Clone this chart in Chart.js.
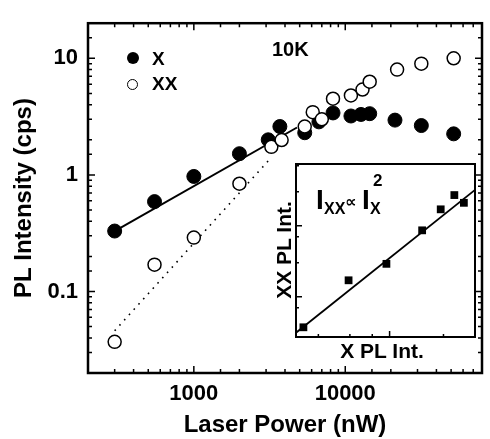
<!DOCTYPE html>
<html>
<head>
<meta charset="utf-8">
<script src="https://cdn.jsdelivr.net/npm/chart.js@4.4.1/dist/chart.umd.min.js"></script>
<style>
    body { margin: 0; background: #fff; }
    #wrap { position: relative; width: 490px; height: 439px; }
    #wrap canvas { position: absolute; left: 0; top: 0; }
    .txt { position: absolute; font-family: 'Liberation Sans', Arial, sans-serif; font-weight: bold; line-height: 1; white-space: nowrap; color: #000; }
    .dot { position: absolute; box-sizing: border-box; border-radius: 50%; }
</style>
</head>
<body>
<div id="wrap">
    <canvas id="mainChart" width="490" height="439"></canvas>
    <canvas id="insetChart" width="490" height="439"></canvas>

    <!-- leyenda -->
    <div class="dot" style="left:127px;top:52px;width:12px;height:12px;background:#000;"></div>
    <div class="txt" style="left:152px;top:49px;font-size:19px;">X</div>
    <div class="dot" style="left:127px;top:79px;width:11px;height:11px;background:#fff;border:1.5px solid #000;"></div>
    <div class="txt" style="left:152px;top:74px;font-size:19px;">XX</div>
    <div class="txt" style="left:272px;top:39px;font-size:20px;">10K</div>

    <!-- textos del inset -->
    <div class="txt" style="left:316px;top:186px;font-size:28px;">I</div>
    <div class="txt" style="left:324px;top:201px;font-size:16px;">XX</div>
    <div class="txt" style="left:345px;top:194px;font-size:16px;font-family:'DejaVu Sans',sans-serif;">∝</div>
    <div class="txt" style="left:362px;top:186px;font-size:28px;">I</div>
    <div class="txt" style="left:370px;top:201px;font-size:16px;">X</div>
    <div class="txt" style="left:373px;top:172px;font-size:17px;">2</div>
    <div class="txt" style="left:382px;top:340px;font-size:21px;transform:translateX(-50%);">X PL Int.</div>
    <div class="txt" style="left:283px;top:250px;font-size:21px;transform:translate(-50%,-50%) rotate(-90deg);">XX PL Int.</div>
</div>

<script>
    // datos
    var xPower = [300, 550, 1000, 2000, 3100, 3700, 5400, 6700, 8300, 10900, 12700, 14500, 21300, 31800, 52000];
    var xIntensity = [0.33, 0.59, 0.97, 1.52, 2.0, 2.6, 2.3, 2.85, 3.4, 3.2, 3.3, 3.35, 2.95, 2.65, 2.25];

    var xxPower = [300, 550, 1000, 2000, 3250, 3800, 5400, 6100, 7000, 8300, 10900, 13000, 14500, 22000, 31800, 52000];
    var xxIntensity = [0.037, 0.17, 0.29, 0.84, 1.74, 1.99, 2.6, 3.45, 3.0, 4.5, 4.8, 5.4, 6.3, 8.0, 9.0, 10];

    // rectas de ajuste
    var xFitPower = [300, 4800];
    var xFitIntensity = [0.33, 2.55];
    var xxFitPower = [300, 3200];
    var xxFitIntensity = [0.046, 1.38];

    // inset: XX vs X
    var insetX = [0.33, 0.59, 0.96, 1.52, 1.93, 2.3, 2.6];
    var insetXX = [0.037, 0.17, 0.29, 0.86, 1.7, 2.7, 2.1];
    var insetFitX = [0.3, 3];
    var insetFitXX = [0.031, 3.2];

    var xTickLabels = ['1000', '10000'];
    var yTickLabels = ['0.1', '1', '10'];

    var fontFam = "'Liberation Sans', Arial, sans-serif";

    function toPoints(xs, ys) {
        return xs.map(function (x, i) { return { x: x, y: ys[i] }; });
    }

    function isDecade(v) {
        var l = Math.log10(v);
        return Math.abs(l - Math.round(l)) < 1e-6;
    }

    function labelFrom(list) {
        return function (v) {
            var s = String(Number(Number(v).toPrecision(6)));
            return list.indexOf(s) >= 0 ? s : '';
        };
    }

    // marco y ticks hacia adentro
    function frameTicks(sides, lw, majorLen, minorLen) {
        return {
            id: 'frameTicks',
            beforeDraw: function (chart) {
                if (!sides.fill) return;
                var a = chart.chartArea, c = chart.ctx;
                c.save();
                c.fillStyle = '#fff';
                c.fillRect(a.left, a.top, a.right - a.left, a.bottom - a.top);
                c.restore();
            },
            afterDraw: function (chart) {
                var a = chart.chartArea, c = chart.ctx;
                c.save();
                c.strokeStyle = '#000';
                c.lineWidth = lw;
                c.strokeRect(a.left, a.top, a.right - a.left, a.bottom - a.top);
                c.lineWidth = 1.5;
                c.beginPath();
                var sx = chart.scales.x, sy = chart.scales.y;
                sx.ticks.forEach(function (t) {
                    var p = sx.getPixelForValue(t.value);
                    if (p < a.left + 1 || p > a.right - 1) return;
                    var len = isDecade(t.value) ? majorLen : minorLen;
                    c.moveTo(p, a.bottom); c.lineTo(p, a.bottom - len);
                    if (sides.top) { c.moveTo(p, a.top); c.lineTo(p, a.top + len); }
                });
                sy.ticks.forEach(function (t) {
                    var p = sy.getPixelForValue(t.value);
                    if (p < a.top + 1 || p > a.bottom - 1) return;
                    var len = isDecade(t.value) ? majorLen : minorLen;
                    c.moveTo(a.left, p); c.lineTo(a.left + len, p);
                    if (sides.right) { c.moveTo(a.right, p); c.lineTo(a.right - len, p); }
                });
                c.stroke();
                c.restore();
            }
        };
    }

    var ctx = document.getElementById('mainChart');
    var mainChart = new Chart(ctx, {
        type: 'scatter',
        data: {
            datasets: [
                {
                    label: 'XX',
                    data: toPoints(xxPower, xxIntensity),
                    pointRadius: 6.5,
                    backgroundColor: '#fff',
                    borderColor: '#000',
                    borderWidth: 1.5,
                    order: 0
                },
                {
                    label: 'X',
                    data: toPoints(xPower, xIntensity),
                    pointRadius: 7,
                    backgroundColor: '#000',
                    borderColor: '#000',
                    borderWidth: 1,
                    order: 1
                },
                {
                    label: 'X fit',
                    data: toPoints(xFitPower, xFitIntensity),
                    showLine: true,
                    pointRadius: 0,
                    borderColor: '#000',
                    borderWidth: 2,
                    order: 2
                },
                {
                    label: 'XX fit',
                    data: toPoints(xxFitPower, xxFitIntensity),
                    showLine: true,
                    pointRadius: 0,
                    borderColor: '#000',
                    borderWidth: 1.6,
                    borderDash: [1.6, 5.5],
                    order: 3
                }
            ]
        },
        options: {
            responsive: false,
            animation: false,
            devicePixelRatio: 1,
            layout: { padding: { top: 11, right: 0, left: 0, bottom: 0 } },
            plugins: { legend: { display: false }, tooltip: { enabled: false } },
            scales: {
                x: {
                    type: 'logarithmic',
                    min: 200,
                    max: 80000,
                    grid: { display: false, drawTicks: false },
                    border: { display: false },
                    afterFit: function (s) { s.height = 66; },
                    ticks: {
                        autoSkip: false,
                        maxRotation: 0,
                        padding: 8,
                        color: '#000',
                        font: { family: fontFam, size: 22, weight: 'bold' },
                        callback: labelFrom(xTickLabels)
                    },
                    title: {
                        display: true,
                        text: 'Laser Power (nW)',
                        color: '#000',
                        padding: { top: 0, bottom: -1 },
                        font: { family: fontFam, size: 24, weight: 'bold' }
                    }
                },
                y: {
                    type: 'logarithmic',
                    min: 0.02,
                    max: 20,
                    grid: { display: false, drawTicks: false },
                    border: { display: false },
                    afterFit: function (s) { s.width = 88; },
                    ticks: {
                        autoSkip: false,
                        padding: 10,
                        color: '#000',
                        font: { family: fontFam, size: 22, weight: 'bold' },
                        callback: labelFrom(yTickLabels)
                    },
                    title: {
                        display: true,
                        text: 'PL Intensity (cps)',
                        color: '#000',
                        padding: { top: 10, bottom: 0 },
                        font: { family: fontFam, size: 24, weight: 'bold' }
                    }
                }
            }
        },
        plugins: [frameTicks({ top: true, right: true }, 2.5, 7, 4)]
    });

    var ctx2 = document.getElementById('insetChart');
    var insetChart = new Chart(ctx2, {
        type: 'scatter',
        data: {
            datasets: [
                {
                    label: 'XX vs X',
                    data: toPoints(insetX, insetXX),
                    pointStyle: 'rect',
                    pointRadius: 5.5,
                    backgroundColor: '#000',
                    borderColor: '#000',
                    borderWidth: 0
                },
                {
                    label: 'fit',
                    data: toPoints(insetFitX, insetFitXX),
                    showLine: true,
                    pointRadius: 0,
                    borderColor: '#000',
                    borderWidth: 1.8
                }
            ]
        },
        options: {
            responsive: false,
            animation: false,
            devicePixelRatio: 1,
            layout: { padding: { left: 296, top: 164, right: 15, bottom: 102 } },
            plugins: { legend: { display: false }, tooltip: { enabled: false } },
            scales: {
                x: { type: 'logarithmic', min: 0.3, max: 3, display: false },
                y: { type: 'logarithmic', min: 0.027, max: 7.4, display: false }
            }
        },
        plugins: [frameTicks({ fill: true }, 2, 6, 3)]
    });
</script>
</body>
</html>
